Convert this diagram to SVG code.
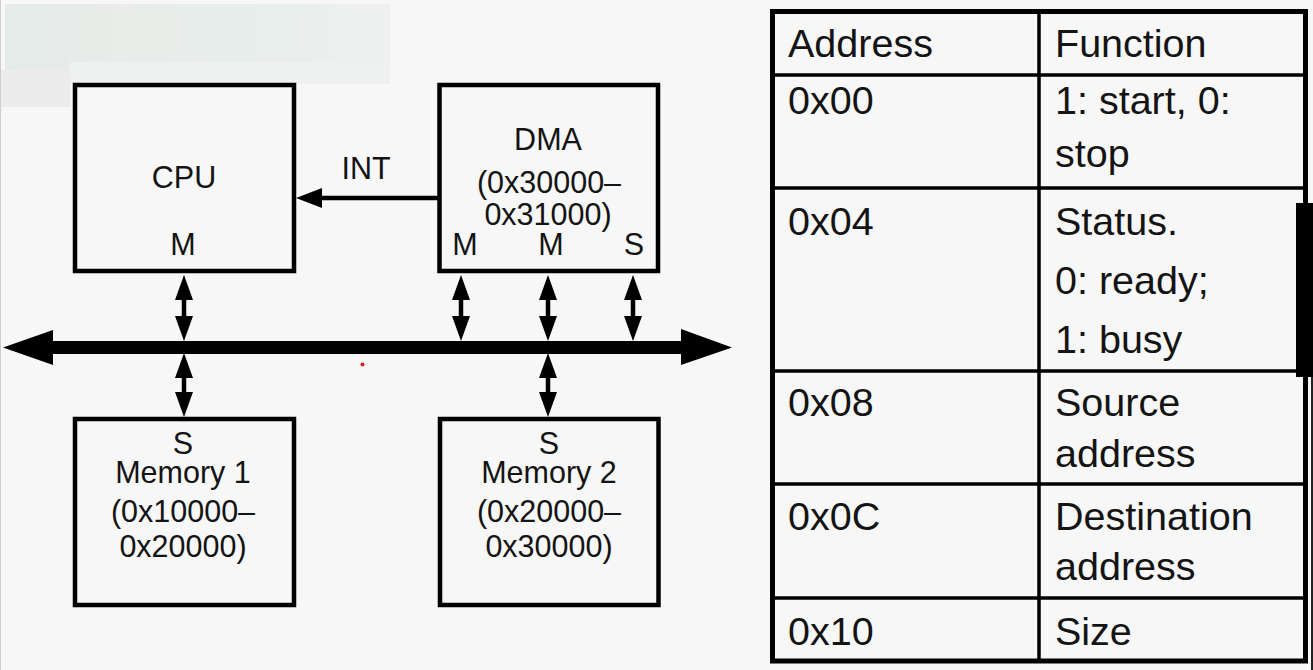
<svg xmlns="http://www.w3.org/2000/svg" width="1313" height="670" viewBox="0 0 1313 670">
  <style>
    .box { fill: none; stroke: #000; stroke-width: 4.5; }
    .lbl { font-family: "Liberation Sans", Arial, sans-serif; font-size: 30.5px; fill: #141414; text-anchor: middle; }
    .cell { font-family: "Liberation Sans", Arial, sans-serif; font-size: 39.5px; fill: #141414; }
    .grid { stroke: #000; stroke-width: 3.5; fill: none; }
    .shaft { stroke: #000; stroke-width: 4.5; fill: none; marker-start: url(#head); marker-end: url(#head); }
  </style>
  <defs>
    <marker id="head" markerUnits="userSpaceOnUse" markerWidth="26" markerHeight="20" refX="0" refY="9" orient="auto-start-reverse" viewBox="0 0 26 18">
      <path d="M0,0 L25,9 L0,18 Z" fill="#000"/>
    </marker>
    <linearGradient id="blur" x1="0" y1="0" x2="1" y2="0">
      <stop offset="0" stop-color="#e4ebea"/>
      <stop offset="0.3" stop-color="#e9ece8"/>
      <stop offset="0.6" stop-color="#e6eeec"/>
      <stop offset="1" stop-color="#eef0ef"/>
    </linearGradient>
  </defs>

  <rect x="0" y="0" width="1313" height="670" fill="#f7f7f7"/>
  <rect x="5" y="4" width="385" height="66" fill="url(#blur)"/>
  <rect x="0" y="70" width="70" height="37" fill="#ececec"/>
  <rect x="70" y="62" width="320" height="22" fill="#eff1f0"/>
  <line x1="0.5" y1="0" x2="0.5" y2="670" stroke="#cfcfcf" stroke-width="1"/>
  <circle cx="362.5" cy="364.5" r="2" fill="#d42020"/>

  <g id="connectors">
    <path id="bus" d="M3,347.5 L53,330 L53,341 L681,341 L681,329 L732,347.5 L681,365 L681,354 L53,354 L53,365 Z" fill="#000"/>
    <line class="shaft" x1="184" y1="300" x2="184" y2="316"/>
    <line class="shaft" x1="461" y1="300" x2="461" y2="316"/>
    <line class="shaft" x1="548" y1="300" x2="548" y2="316"/>
    <line class="shaft" x1="633" y1="300" x2="633" y2="316"/>
    <line class="shaft" x1="184" y1="378" x2="184" y2="392"/>
    <line class="shaft" x1="548" y1="378" x2="548" y2="392"/>
    <g id="int">
      <line x1="440" y1="198" x2="320" y2="198" stroke="#000" stroke-width="4.5"/>
      <path d="M296,198 L322,188 L322,208 Z" fill="#000"/>
      <text class="lbl" x="366" y="179">INT</text>
    </g>
  </g>

  <g id="cpu">
    <rect class="box" x="75" y="85" width="219" height="186"/>
    <text class="lbl" x="184" y="188">CPU</text>
    <text class="lbl" x="183" y="255">M</text>
  </g>

  <g id="dma">
    <rect class="box" x="439.5" y="85" width="218.5" height="186"/>
    <text class="lbl" x="548" y="150">DMA</text>
    <text class="lbl" x="549" y="193">(0x30000–</text>
    <text class="lbl" x="548" y="225">0x31000)</text>
    <text class="lbl" x="465" y="255">M</text>
    <text class="lbl" x="551" y="255">M</text>
    <text class="lbl" x="634" y="255">S</text>
  </g>

  <g id="memory1">
    <rect class="box" x="75" y="419" width="219" height="186"/>
    <text class="lbl" x="183" y="454">S</text>
    <text class="lbl" x="183" y="483">Memory 1</text>
    <text class="lbl" x="183" y="522">(0x10000–</text>
    <text class="lbl" x="183" y="557">0x20000)</text>
  </g>

  <g id="memory2">
    <rect class="box" x="440" y="419" width="218.5" height="186"/>
    <text class="lbl" x="549" y="454">S</text>
    <text class="lbl" x="549" y="483">Memory 2</text>
    <text class="lbl" x="549" y="522">(0x20000–</text>
    <text class="lbl" x="549" y="557">0x30000)</text>
  </g>

  <g id="register-table">
    <rect x="772.5" y="11.5" width="533" height="649.5" fill="none" stroke="#000" stroke-width="5"/>
    <line class="grid" x1="1039" y1="11.5" x2="1039" y2="661"/>
    <line class="grid" x1="772.5" y1="75" x2="1305.5" y2="75"/>
    <line class="grid" x1="772.5" y1="188" x2="1305.5" y2="188"/>
    <line class="grid" x1="772.5" y1="371" x2="1305.5" y2="371"/>
    <line class="grid" x1="772.5" y1="484" x2="1305.5" y2="484"/>
    <line class="grid" x1="772.5" y1="598" x2="1305.5" y2="598"/>
    <text class="cell" x="788" y="57">Address</text>
    <text class="cell" x="1055" y="57">Function</text>
    <text class="cell" x="788" y="114">0x00</text>
    <text class="cell" x="1055" y="114">1: start, 0:</text>
    <text class="cell" x="1055" y="167">stop</text>
    <text class="cell" x="788" y="235">0x04</text>
    <text class="cell" x="1055" y="235">Status.</text>
    <text class="cell" x="1055" y="294">0: ready;</text>
    <text class="cell" x="1055" y="353">1: busy</text>
    <text class="cell" x="788" y="416">0x08</text>
    <text class="cell" x="1055" y="416">Source</text>
    <text class="cell" x="1055" y="467">address</text>
    <text class="cell" x="788" y="530">0x0C</text>
    <text class="cell" x="1055" y="530">Destination</text>
    <text class="cell" x="1055" y="580">address</text>
    <text class="cell" x="788" y="645">0x10</text>
    <text class="cell" x="1055" y="645">Size</text>
  </g>

  <rect x="1296" y="203" width="17" height="174" fill="#000"/>
  <line x1="1312" y1="377" x2="1312" y2="670" stroke="#222" stroke-width="2"/>
</svg>
